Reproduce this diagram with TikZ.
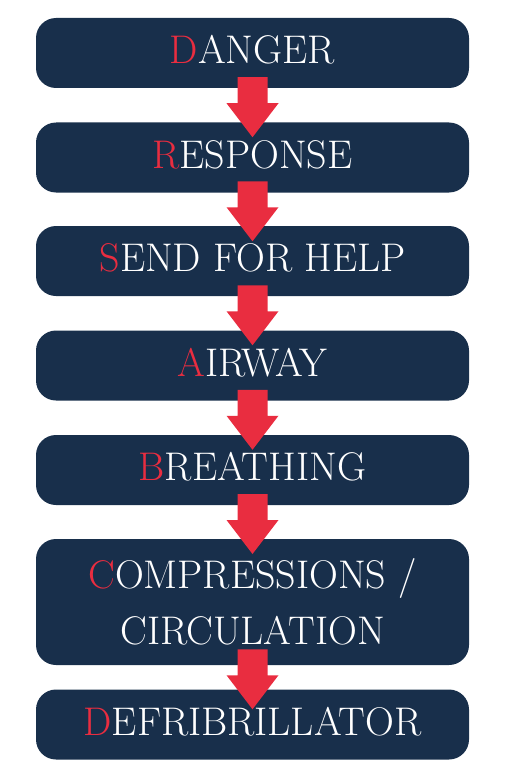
\documentclass[tikz,border=0pt]{standalone}
\usepackage{tikz}
\usetikzlibrary{calc}
\definecolor{drsnavy}{RGB}{24,47,75}
\definecolor{drsred}{RGB}{233,45,64}
\def\drsarrow(#1)(#2){\fill[drsred] ($(#1.south)!0.5!(#2.north)$) coordinate (m)
	($(m)+(-15,-28)$) -- ($(m)+(15,-28)$) -- ($(m)+(15,-2)$) -- ($(m)+(26,-2)$) -- ($(m)+(0,32)$) -- ($(m)+(-26,-2)$) -- ($(m)+(-15,-2)$) -- cycle;}
\def\first#1{{\color{drsred}#1}}

\begin{document}
\begin{tikzpicture}[x=1pt, y=-1pt,
	drsbox/.style={fill=drsnavy, rounded corners=20pt, minimum width=433pt, inner sep=0pt, text=white, font=\fontsize{40}{56}\selectfont},
	oneline/.style={minimum height=70pt, text height=27pt, text depth=6pt}]
			%%%%% START %%%%%
			\useasboundingbox (0, 0) rectangle (523, 781);
			
			\node[drsbox, oneline] (danger) at (252.5, 53) {\first{D}ANGER};
			\node[drsbox, oneline] (response) at (252.5, 157.5) {\first{R}ESPONSE};
			\node[drsbox, oneline] (help) at (252.5, 261) {\first{S}END FOR HELP};
			\node[drsbox, oneline] (airway) at (252.5, 365.5) {\first{A}IRWAY};
			\node[drsbox, oneline] (breathing) at (252.5, 470) {\first{B}REATHING};
			\node[drsbox, minimum height=126pt, align=center] (compressions) at (252.5, 602) {\first{C}OMPRESSIONS /\\CIRCULATION};
			\node[drsbox, oneline] (defib) at (252.5, 724.5) {\first{D}EFRIBRILLATOR};
			
			\drsarrow(danger)(response)
			\drsarrow(response)(help)
			\drsarrow(help)(airway)
			\drsarrow(airway)(breathing)
			\drsarrow(breathing)(compressions)
			\drsarrow(compressions)(defib)
			
			%%%%% END %%%%%
		\end{tikzpicture}
\end{document}
